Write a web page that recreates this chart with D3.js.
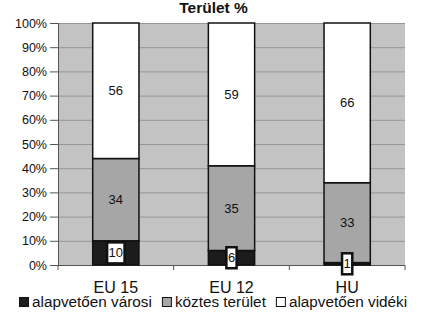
<!DOCTYPE html>
<html>
<head>
<meta charset="utf-8">
<script src="https://cdn.jsdelivr.net/npm/d3@7"></script>
<style>
  body { margin: 0; background: #fff; }
  text { font-family: "Liberation Sans", Arial, sans-serif; fill: #111; }
</style>
</head>
<body>
<script>
// chart values
const categories = ["EU 15", "EU 12", "HU"];
const seriesNames = ["alapvetően városi", "köztes terület", "alapvetően vidéki"];
const varosi = [10, 6, 1];
const koztes = [34, 35, 33];
const videki = [56, 59, 66];
const yTicks = [0, 10, 20, 30, 40, 50, 60, 70, 80, 90, 100];
const title = "Terület %";

const colors = ["#1c1c1c", "#a6a6a6", "#ffffff"];

const width = 428, height = 314;
const margin = {top: 23, right: 23, bottom: 49, left: 58};
const innerWidth = width - margin.left - margin.right;
const innerHeight = height - margin.top - margin.bottom;

const svg = d3.select("body").append("svg")
    .attr("width", width)
    .attr("height", height);

const rows = categories.map((c, i) => ({
  cat: c,
  [seriesNames[0]]: varosi[i],
  [seriesNames[1]]: koztes[i],
  [seriesNames[2]]: videki[i]
}));
const stacked = d3.stack().keys(seriesNames)(rows);

const x = d3.scaleBand()
    .domain(categories)
    .range([0, innerWidth])
    .paddingInner(0.6)
    .paddingOuter(0.3);
const y = d3.scaleLinear().domain([0, 100]).range([innerHeight, 0]);

const g = svg.append("g")
    .attr("transform", `translate(${margin.left},${margin.top})`);

// plot background
g.append("rect")
    .attr("width", innerWidth)
    .attr("height", innerHeight)
    .attr("fill", "#c3c3c3");

// grid
g.append("g").selectAll("line").data(yTicks.slice(1)).enter()
  .append("line")
    .attr("x1", 0).attr("x2", innerWidth)
    .attr("y1", d => y(d) + 0.5).attr("y2", d => y(d) + 0.5)
    .attr("stroke", "#969696")
    .attr("stroke-width", 1);

// y axis
const yAxis = d3.axisLeft(y)
    .tickValues(yTicks)
    .tickFormat(d => d + "%")
    .tickSize(8)
    .tickPadding(3);
const yAxisG = g.append("g").call(yAxis);
yAxisG.select(".domain").attr("stroke", "#555");
yAxisG.selectAll(".tick line").attr("stroke", "#555");
yAxisG.selectAll("text")
    .style("font-size", "12.5px")
    .attr("fill", "#111");

// x axis: ticks between categories
const xAxisG = g.append("g").attr("transform", `translate(0,${innerHeight})`);
xAxisG.append("line")
    .attr("x1", 0).attr("x2", innerWidth)
    .attr("y1", 0.5).attr("y2", 0.5)
    .attr("stroke", "#555");
const bounds = d3.range(categories.length + 1).map(i => i * x.step());
xAxisG.selectAll(".tk").data(bounds).enter()
  .append("line")
    .attr("x1", d => d).attr("x2", d => d)
    .attr("y1", 0).attr("y2", 5)
    .attr("stroke", "#555");
xAxisG.selectAll(".cat").data(categories).enter()
  .append("text")
    .attr("x", d => x(d) + x.bandwidth() / 2)
    .attr("y", 28)
    .attr("text-anchor", "middle")
    .style("font-size", "16px")
    .text(d => d);

// bars
const layers = g.selectAll(".layer").data(stacked).enter()
  .append("g")
    .attr("fill", (d, i) => colors[i]);
layers.selectAll("rect").data(d => d).enter()
  .append("rect")
    .attr("x", d => x(d.data.cat))
    .attr("y", d => y(d[1]))
    .attr("width", x.bandwidth())
    .attr("height", d => y(d[0]) - y(d[1]))
    .attr("stroke", "#111")
    .attr("stroke-width", 1.5);

// value labels
stacked.forEach((s, si) => {
  s.forEach(d => {
    const cx = x(d.data.cat) + x.bandwidth() / 2;
    const cy = y((d[0] + d[1]) / 2);
    const val = d[1] - d[0];
    const lg = g.append("g");
    const t = lg.append("text")
        .attr("x", cx)
        .attr("y", cy)
        .attr("dy", "0.35em")
        .attr("text-anchor", "middle")
        .style("font-size", "13px")
        .text(val);
    if (si === 0) {
      const tw = t.node().getComputedTextLength();
      lg.insert("rect", "text")
          .attr("x", cx - tw / 2 - 1.5)
          .attr("y", cy - 10.5)
          .attr("width", tw + 3)
          .attr("height", 21)
          .attr("fill", "#fff")
          .attr("stroke", "#111")
          .attr("stroke-width", 2.5);
    }
  });
});

// title
svg.append("text")
    .attr("x", 213.5)
    .attr("y", 13)
    .attr("text-anchor", "middle")
    .style("font-size", "15.5px")
    .style("font-weight", "bold")
    .text(title);

// legend
const legend = svg.append("g").attr("transform", "translate(19,307)");
let lx = 0;
seriesNames.forEach((name, i) => {
  const item = legend.append("g").attr("transform", `translate(${lx},0)`);
  item.append("rect")
      .attr("x", 0.5).attr("y", -9.5)
      .attr("width", 9).attr("height", 9)
      .attr("fill", colors[i])
      .attr("stroke", "#111")
      .attr("stroke-width", 1);
  const t = item.append("text")
      .attr("x", 13)
      .attr("y", 0)
      .style("font-size", "15.3px")
      .text(name);
  lx += 13 + t.node().getComputedTextLength() + 10;
});
</script>
</body>
</html>
